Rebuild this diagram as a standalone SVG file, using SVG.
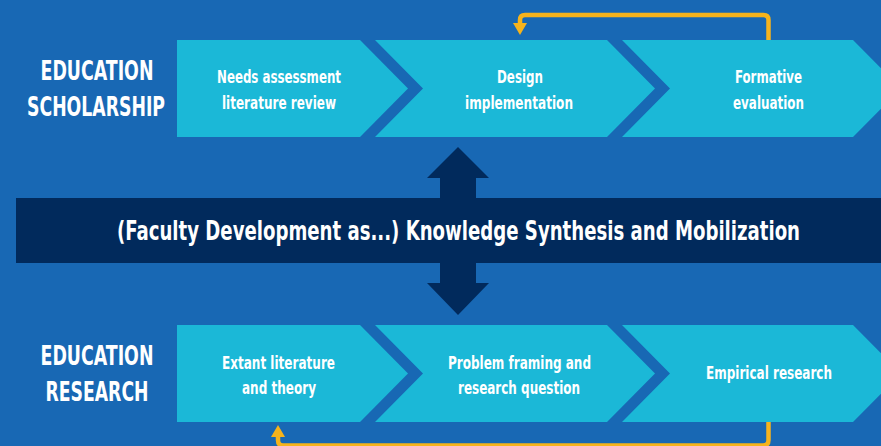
<svg xmlns="http://www.w3.org/2000/svg" width="881" height="446" viewBox="0 0 881 446">
<style>
.chev{fill:#1bb8d7}
.lbl{font-family:'Liberation Sans Narrow','DejaVu Sans Condensed','Roboto Condensed','Liberation Sans',sans-serif;font-weight:bold;fill:#ffffff;text-anchor:middle}
.side{font-size:27px}
.step{font-size:18px}
.band-t{font-size:27px}
.loop{fill:none;stroke:#f6b31c;stroke-width:4.5;stroke-linejoin:round}
.head{fill:#f6b31c}
.dbl{fill:#012a5c}
</style>
<rect width="881" height="446" fill="#1868b4"/>

<g id="label-scholarship">
<text class="lbl side" x="97" y="80" textLength="113" lengthAdjust="spacingAndGlyphs">EDUCATION</text>
<text class="lbl side" x="96" y="116" textLength="138" lengthAdjust="spacingAndGlyphs">SCHOLARSHIP</text>
</g>
<g id="label-research">
<text class="lbl side" x="97" y="365" textLength="113" lengthAdjust="spacingAndGlyphs">EDUCATION</text>
<text class="lbl side" x="97" y="401" textLength="103" lengthAdjust="spacingAndGlyphs">RESEARCH</text>
</g>

<g id="connectors">
<polygon class="dbl" points="458,147 489,178 476,178 476,198 440,198 440,178 427,178"/>
<polygon class="dbl" points="458,315 489,283 476,283 476,263 440,263 440,283 427,283"/>
<path class="loop" d="M768.5,40 V20 Q768.5,15 763.5,15 H525 Q520,15 520,20 V25"/>
<polygon class="head" points="513,23 527,23 520,35"/>
<path class="loop" d="M768.5,422 V440 Q768.5,445.5 763,445.5 H283 Q278,445.5 278,440 V435"/>
<polygon class="head" points="271,437 285,437 278,425"/>
</g>

<g id="step-needs">
<polygon class="chev" points="177,40 360,40 408,88.5 360,137 177,137"/>
<text class="lbl step" x="279" y="83" textLength="124" lengthAdjust="spacingAndGlyphs">Needs assessment</text>
<text class="lbl step" x="279" y="109" textLength="114" lengthAdjust="spacingAndGlyphs">literature review</text>
</g>
<g id="step-design">
<polygon class="chev" points="375,40 607,40 655,88.5 607,137 375,137 423,88.5"/>
<text class="lbl step" x="520" y="83" textLength="46" lengthAdjust="spacingAndGlyphs">Design</text>
<text class="lbl step" x="519" y="109" textLength="108" lengthAdjust="spacingAndGlyphs">implementation</text>
</g>
<g id="step-formative">
<polygon class="chev" points="622,40 853,40 901,88.5 853,137 622,137 670,88.5"/>
<text class="lbl step" x="768.5" y="83" textLength="67" lengthAdjust="spacingAndGlyphs">Formative</text>
<text class="lbl step" x="768.5" y="109" textLength="71" lengthAdjust="spacingAndGlyphs">evaluation</text>
</g>

<g id="band">
<rect x="16" y="198" width="865" height="65" fill="#012a5c"/>
<text class="lbl band-t" x="458.5" y="240" textLength="683" lengthAdjust="spacingAndGlyphs">(Faculty Development as...) Knowledge Synthesis and Mobilization</text>
</g>

<g id="step-extant">
<polygon class="chev" points="177,325 360,325 408,373.5 360,422 177,422"/>
<text class="lbl step" x="278.5" y="369" textLength="113" lengthAdjust="spacingAndGlyphs">Extant literature</text>
<text class="lbl step" x="279" y="394" textLength="74" lengthAdjust="spacingAndGlyphs">and theory</text>
</g>
<g id="step-problem">
<polygon class="chev" points="375,325 607,325 655,373.5 607,422 375,422 423,373.5"/>
<text class="lbl step" x="519.5" y="369" textLength="143" lengthAdjust="spacingAndGlyphs">Problem framing and</text>
<text class="lbl step" x="519" y="394" textLength="122" lengthAdjust="spacingAndGlyphs">research question</text>
</g>
<g id="step-empirical">
<polygon class="chev" points="622,325 853,325 901,373.5 853,422 622,422 670,373.5"/>
<text class="lbl step" x="769" y="379" textLength="126" lengthAdjust="spacingAndGlyphs">Empirical research</text>
</g>
</svg>
